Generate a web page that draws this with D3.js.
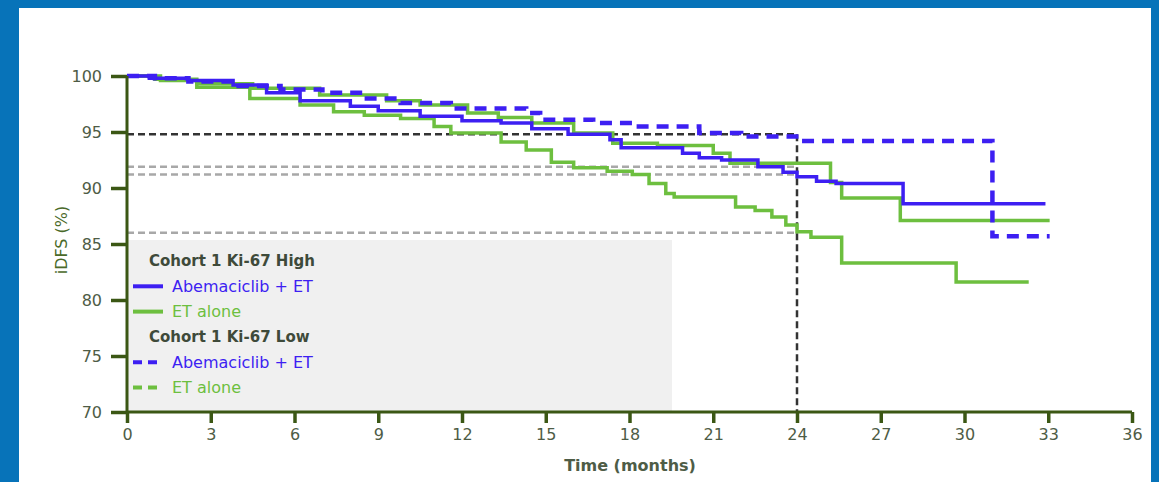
<!DOCTYPE html>
<html>
<head>
<meta charset="utf-8">
<script src="https://cdn.jsdelivr.net/npm/d3@7"></script>
<style>
  body { margin: 0; background: #0773b9; }
  svg { display: block; }
  text { font-family: "DejaVu Sans", Verdana, sans-serif; }
</style>
</head>
<body>
<svg id="chart"></svg>
<script>
// Kaplan-Meier steps: time (months) and iDFS (%)
var highAbemaT = [0, 0.8, 2.2, 3.8, 5.0, 6.2, 8.0, 9.0, 10.5, 12.0, 13.4, 14.5, 15.8, 17.3, 17.7, 19.9, 20.5, 21.3, 22.6, 23.5, 24.0, 24.7, 25.4, 27.8, 32.9];
var highAbemaV = [100, 99.8, 99.6, 99.2, 98.5, 97.8, 97.3, 96.9, 96.4, 96.0, 95.8, 95.3, 94.8, 94.3, 93.6, 93.1, 92.7, 92.5, 91.9, 91.4, 91.0, 90.6, 90.4, 88.6, 88.6];

var highEtT = [0, 1.2, 2.5, 4.4, 6.2, 7.4, 8.5, 9.8, 11.0, 11.6, 13.4, 14.3, 15.2, 16.0, 17.2, 18.1, 18.7, 19.3, 19.6, 21.8, 22.5, 23.1, 23.6, 24.0, 24.5, 25.6, 29.7, 32.3];
var highEtV = [100, 99.6, 99.0, 98.0, 97.4, 96.8, 96.5, 96.2, 95.5, 94.9, 94.1, 93.4, 92.3, 91.8, 91.5, 91.2, 90.4, 89.5, 89.2, 88.3, 88.0, 87.4, 86.7, 86.1, 85.6, 83.3, 81.6, 81.6];

var lowAbemaT = [0, 1.0, 2.2, 4.0, 5.5, 7.0, 8.5, 9.8, 11.6, 14.3, 14.8, 16.7, 18.1, 20.5, 22.0, 24.1, 31.0, 33.05];
var lowAbemaV = [100, 99.8, 99.5, 99.1, 98.8, 98.5, 98.0, 97.6, 97.1, 96.7, 96.1, 95.8, 95.5, 94.9, 94.6, 94.2, 85.7, 85.7];

var lowEtT = [0, 1.0, 2.5, 4.5, 6.9, 9.3, 10.5, 12.2, 13.3, 14.5, 16.0, 17.4, 19.0, 21.0, 21.6, 25.2, 25.6, 27.7, 33.05];
var lowEtV = [100, 99.7, 99.3, 98.9, 98.3, 97.8, 97.4, 96.7, 96.3, 95.8, 94.9, 94.0, 93.8, 93.1, 92.2, 90.5, 89.1, 87.1, 87.1];

// landmark lines at 24 months
var landmarkT = 24;
var landmarkBlack = 94.8;
var landmarkGrey = [91.9, 91.2, 86.0];

var xTicks = [0, 3, 6, 9, 12, 15, 18, 21, 24, 27, 30, 33, 36];
var yTicks = [70, 75, 80, 85, 90, 95, 100];

var legendItems = [
  { label: "Cohort 1 Ki-67 High", head: true },
  { label: "Abemaciclib + ET", color: "blue", dash: false },
  { label: "ET alone", color: "green", dash: false },
  { label: "Cohort 1 Ki-67 Low", head: true },
  { label: "Abemaciclib + ET", color: "blue", dash: true },
  { label: "ET alone", color: "green", dash: true }
];

var W = 1159, H = 482;
var BLUE = "#3d1ff2", GREEN = "#6dbf3f", AXIS = "#3b5714", LABEL = "#4e5c46";

var svg = d3.select("#chart").attr("width", W).attr("height", H);

svg.append("rect")
    .attr("x", 19).attr("y", 8)
    .attr("width", 1132).attr("height", H - 8)
    .attr("fill", "#ffffff");

var x = d3.scaleLinear().domain([0, 36]).range([127, 1132]);
var y = d3.scaleLinear().domain([70, 100]).range([412, 76]);

function steps(ts, vs) {
  return ts.map(function (t, i) { return [t, vs[i]]; });
}

var line = d3.line()
    .x(function (d) { return x(d[0]); })
    .y(function (d) { return y(d[1]); })
    .curve(d3.curveStepAfter);

// legend box
svg.append("rect")
    .attr("x", x(0) + 1).attr("y", 240)
    .attr("width", 544).attr("height", y(70) - 241)
    .attr("fill", "#f0f0f0");

// landmark lines
svg.selectAll(".grey")
    .data(landmarkGrey)
  .enter().append("line")
    .attr("x1", x(0)).attr("x2", x(landmarkT))
    .attr("y1", function (d) { return y(d); })
    .attr("y2", function (d) { return y(d); })
    .attr("stroke", "#a8a8a8")
    .attr("stroke-width", 2.5)
    .attr("stroke-dasharray", "7,4");

svg.append("line")
    .attr("x1", x(0)).attr("x2", x(landmarkT))
    .attr("y1", y(landmarkBlack)).attr("y2", y(landmarkBlack))
    .attr("stroke", "#333")
    .attr("stroke-width", 2.5)
    .attr("stroke-dasharray", "7,4");

svg.append("line")
    .attr("x1", x(landmarkT)).attr("x2", x(landmarkT))
    .attr("y1", y(landmarkBlack)).attr("y2", y(70))
    .attr("stroke", "#333")
    .attr("stroke-width", 2.5)
    .attr("stroke-dasharray", "7,4");

// curves
var curves = [
  { d: steps(highEtT, highEtV), c: GREEN, dash: null, w: 3.5 },
  { d: steps(lowEtT, lowEtV), c: GREEN, dash: null, w: 3.5 },
  { d: steps(highAbemaT, highAbemaV), c: BLUE, dash: null, w: 3.5 },
  { d: steps(lowAbemaT, lowAbemaV), c: BLUE, dash: "12,8", w: 4.5 }
];

svg.selectAll(".km")
    .data(curves)
  .enter().append("path")
    .attr("class", "km")
    .attr("d", function (d) { return line(d.d); })
    .attr("fill", "none")
    .attr("stroke", function (d) { return d.c; })
    .attr("stroke-width", function (d) { return d.w; })
    .attr("stroke-dasharray", function (d) { return d.dash; });

// axes
var yAxis = svg.append("g")
    .attr("transform", "translate(" + x(0) + ",0)")
    .call(d3.axisLeft(y).tickValues(yTicks).tickSize(16).tickPadding(9));

var xAxis = svg.append("g")
    .attr("transform", "translate(0," + y(70) + ")")
    .call(d3.axisBottom(x).tickValues(xTicks).tickSize(11).tickPadding(6));

[yAxis, xAxis].forEach(function (g) {
  g.select(".domain").attr("stroke", AXIS).attr("stroke-width", 3);
  g.selectAll(".tick line").attr("stroke", AXIS).attr("stroke-width", 3.5);
  g.selectAll(".tick text")
      .attr("fill", LABEL)
      .style("font-size", "16px");
});
yAxis.select(".domain").attr("d", "M0," + y(70) + "V" + y(100));
xAxis.select(".domain").attr("d", "M" + x(0) + ",0H" + x(36));

svg.append("text")
    .attr("x", 630).attr("y", 471)
    .attr("text-anchor", "middle")
    .attr("fill", LABEL)
    .style("font-size", "16px")
    .style("font-weight", "bold")
    .text("Time (months)");

svg.append("text")
    .attr("transform", "translate(67,240) rotate(-90)")
    .attr("text-anchor", "middle")
    .attr("fill", "#4a6a2a")
    .style("font-size", "16px")
    .text("iDFS (%)");

// legend
var leg = svg.selectAll(".leg")
    .data(legendItems)
  .enter().append("g")
    .attr("transform", function (d, i) { return "translate(0," + (261 + i * 25.3) + ")"; });

leg.filter(function (d) { return !d.head; }).append("line")
    .attr("x1", 133).attr("x2", 163)
    .attr("stroke", function (d) { return d.color === "blue" ? BLUE : GREEN; })
    .attr("stroke-width", 4)
    .attr("stroke-dasharray", function (d) { return d.dash ? "9,6" : null; });

leg.append("text")
    .attr("x", function (d) { return d.head ? 149 : 172; })
    .attr("dy", "0.35em")
    .attr("fill", function (d) { return d.head ? "#3e4a3a" : (d.color === "blue" ? BLUE : GREEN); })
    .style("font-size", function (d) { return d.head ? "15px" : "16px"; })
    .style("font-weight", function (d) { return d.head ? "bold" : "normal"; })
    .text(function (d) { return d.label; });
</script>
</body>
</html>
